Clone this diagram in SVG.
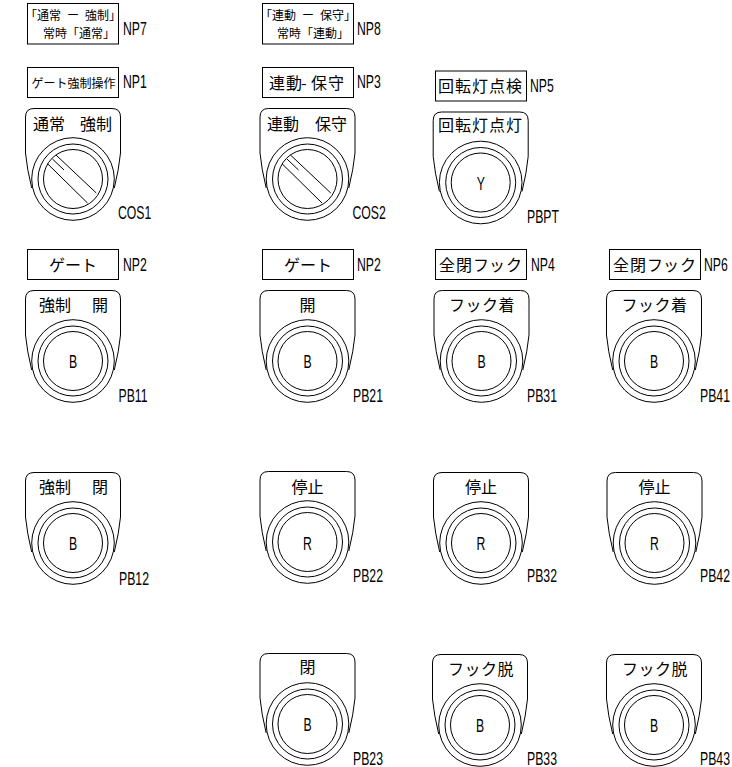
<svg xmlns="http://www.w3.org/2000/svg" width="732" height="767" viewBox="0 0 732 767">
<style>
.l{fill:none;stroke:#000;stroke-width:1}
.b{fill:#fff;stroke:#000;stroke-width:1}
text{fill:#000}
.j{font-family:"Noto Sans CJK JP","Liberation Sans",sans-serif;font-size:16px}
.w{font-family:"Noto Sans CJK JP","Liberation Sans",sans-serif;font-size:16px;letter-spacing:.5px}
.s{font-family:"Noto Sans CJK JP","Liberation Sans",sans-serif;font-size:12px}
.m{font-family:"Liberation Sans",sans-serif;font-size:17.5px}
</style>
<defs>
<g id="plate">
<path class="l" d="M-41.3,9 Q-46,-10 -47.5,-26 V-62 Q-47.5,-70.5 -39,-70.5 H39 Q47.5,-70.5 47.5,-62 V-26 Q46,-10 41.3,9"/>
<circle class="l" r="41.3"/><circle class="l" r="35"/><circle class="l" r="29.5"/>
</g>
<g id="sel">
<use href="#plate"/>
<path class="l" d="M-17,-24 L23.3,14 M-25.5,-15.3 L14.5,24 M-20.5,-20 L-9,-9"/>
</g>
</defs>
<rect width="732" height="767" fill="#fff"/>
<g id="connectors"/>

<g id="NP7"><rect class="b" x="27.5" y="3.5" width="91" height="40.5"/>
<text class="s" x="25 37 49 61 67 79 85 97 109" y="20">「通常 ー 強制」</text>
<text class="s" x="43 55 67 79 91 103" y="38">常時「通常」</text>
<text class="m" transform="matrix(.7 0 0 1 123 35)">NP7</text></g>

<g id="NP8"><rect class="b" x="262.5" y="3.5" width="91" height="40.5"/>
<text class="s" x="260 272 284 296 302 314 320 332 344" y="20">「連動 ー 保守」</text>
<text class="s" x="277 289 301 313 325 337" y="38">常時「連動」</text>
<text class="m" transform="matrix(.7 0 0 1 357 35)">NP8</text></g>

<g id="NP1"><rect class="b" x="27.5" y="67.5" width="91" height="30"/>
<text class="s" x="31.5" y="88">ゲート強制操作</text>
<text class="m" transform="matrix(.7 0 0 1 123 88)">NP1</text></g>

<g id="NP3"><rect class="b" x="262.5" y="67.5" width="91" height="30"/>
<text class="j" x="269 286 301 311 328" y="89">連動-保守</text>
<text class="m" transform="matrix(.7 0 0 1 357 88)">NP3</text></g>

<g id="NP5"><rect class="b" x="435.5" y="71" width="91" height="30"/>
<text class="j" x="438 455 472 489 506" y="92">回転灯点検</text>
<text class="m" transform="matrix(.7 0 0 1 530 92)">NP5</text></g>

<g id="COS1"><use href="#sel" x="73" y="179"/>
<text class="j" x="33 49 65 80 96" y="130">通常 強制</text>
<text class="m" transform="matrix(.7 0 0 1 118 219)">COS1</text></g>

<g id="COS2"><use href="#sel" x="307.5" y="179"/>
<text class="j" x="267 283 299 315 331" y="130">連動 保守</text>
<text class="m" transform="matrix(.7 0 0 1 352.5 219)">COS2</text></g>

<g id="PBPT"><use href="#plate" x="480.7" y="182.5"/>
<text class="j" x="438 455 472 489 506" y="131">回転灯点灯</text>
<text class="m" transform="matrix(.7 0 0 1 476.7 189.5)">Y</text>
<text class="m" transform="matrix(.7 0 0 1 527 223)">PBPT</text></g>

<g id="NP2-1"><rect class="b" x="27.5" y="249.5" width="91" height="30"/>
<text class="j" x="49 65 81" y="271">ゲート</text>
<text class="m" transform="matrix(.7 0 0 1 123 271)">NP2</text></g>

<g id="NP2-2"><rect class="b" x="262.5" y="249.5" width="91" height="30"/>
<text class="j" x="284 300 316" y="271">ゲート</text>
<text class="m" transform="matrix(.7 0 0 1 357 271)">NP2</text></g>

<g id="NP4"><rect class="b" x="435.5" y="249.5" width="91" height="30"/>
<text class="j" x="439 456 473 489 506" y="271">全閉フック</text>
<text class="m" transform="matrix(.7 0 0 1 531 271)">NP4</text></g>

<g id="NP6"><rect class="b" x="609.5" y="249.5" width="91" height="30"/>
<text class="j" x="613 630 647 663 680" y="271">全閉フック</text>
<text class="m" transform="matrix(.7 0 0 1 704 271)">NP6</text></g>

<g id="PB11"><use href="#plate" x="73" y="361"/>
<text class="j" x="39 55 71 92" y="311">強制 開</text>
<text class="m" transform="matrix(.7 0 0 1 69 367.5)">B</text>
<text class="m" transform="matrix(.7 0 0 1 118.5 402)">PB11</text></g>

<g id="PB21"><use href="#plate" x="307.5" y="361"/>
<text class="j" x="299.5" y="311">開</text>
<text class="m" transform="matrix(.7 0 0 1 303.5 367.5)">B</text>
<text class="m" transform="matrix(.7 0 0 1 353 402)">PB21</text></g>

<g id="PB31"><use href="#plate" x="481.5" y="361"/>
<text class="w" x="449" y="311">フック着</text>
<text class="m" transform="matrix(.7 0 0 1 477.5 367.5)">B</text>
<text class="m" transform="matrix(.7 0 0 1 527 402)">PB31</text></g>

<g id="PB41"><use href="#plate" x="654" y="361"/>
<text class="w" x="621.5" y="311">フック着</text>
<text class="m" transform="matrix(.7 0 0 1 650 367.5)">B</text>
<text class="m" transform="matrix(.7 0 0 1 700 402)">PB41</text></g>

<g id="PB12"><use href="#plate" x="73" y="543"/>
<text class="j" x="39 55 71 92" y="493">強制 閉</text>
<text class="m" transform="matrix(.7 0 0 1 69 549.5)">B</text>
<text class="m" transform="matrix(.7 0 0 1 119 585)">PB12</text></g>

<g id="PB22"><use href="#plate" x="307.5" y="542"/>
<text class="j" x="291.5" y="493">停止</text>
<text class="m" transform="matrix(.7 0 0 1 303 549.5)">R</text>
<text class="m" transform="matrix(.7 0 0 1 353 582)">PB22</text></g>

<g id="PB32"><use href="#plate" x="481" y="543"/>
<text class="j" x="465" y="493">停止</text>
<text class="m" transform="matrix(.7 0 0 1 476.5 549.5)">R</text>
<text class="m" transform="matrix(.7 0 0 1 527 582)">PB32</text></g>

<g id="PB42"><use href="#plate" x="654.5" y="543"/>
<text class="j" x="638.5" y="493">停止</text>
<text class="m" transform="matrix(.7 0 0 1 650 549.5)">R</text>
<text class="m" transform="matrix(.7 0 0 1 700 582)">PB42</text></g>

<g id="PB23"><use href="#plate" x="307.5" y="724"/>
<text class="j" x="299.5" y="673">閉</text>
<text class="m" transform="matrix(.7 0 0 1 303.5 730.5)">B</text>
<text class="m" transform="matrix(.7 0 0 1 353 765)">PB23</text></g>

<g id="PB33"><use href="#plate" x="480" y="725"/>
<text class="w" x="448" y="675">フック脱</text>
<text class="m" transform="matrix(.7 0 0 1 476 731.5)">B</text>
<text class="m" transform="matrix(.7 0 0 1 527 764.5)">PB33</text></g>

<g id="PB43"><use href="#plate" x="654" y="725"/>
<text class="w" x="622" y="675">フック脱</text>
<text class="m" transform="matrix(.7 0 0 1 650 731.5)">B</text>
<text class="m" transform="matrix(.7 0 0 1 700 764.5)">PB43</text></g>
</svg>
